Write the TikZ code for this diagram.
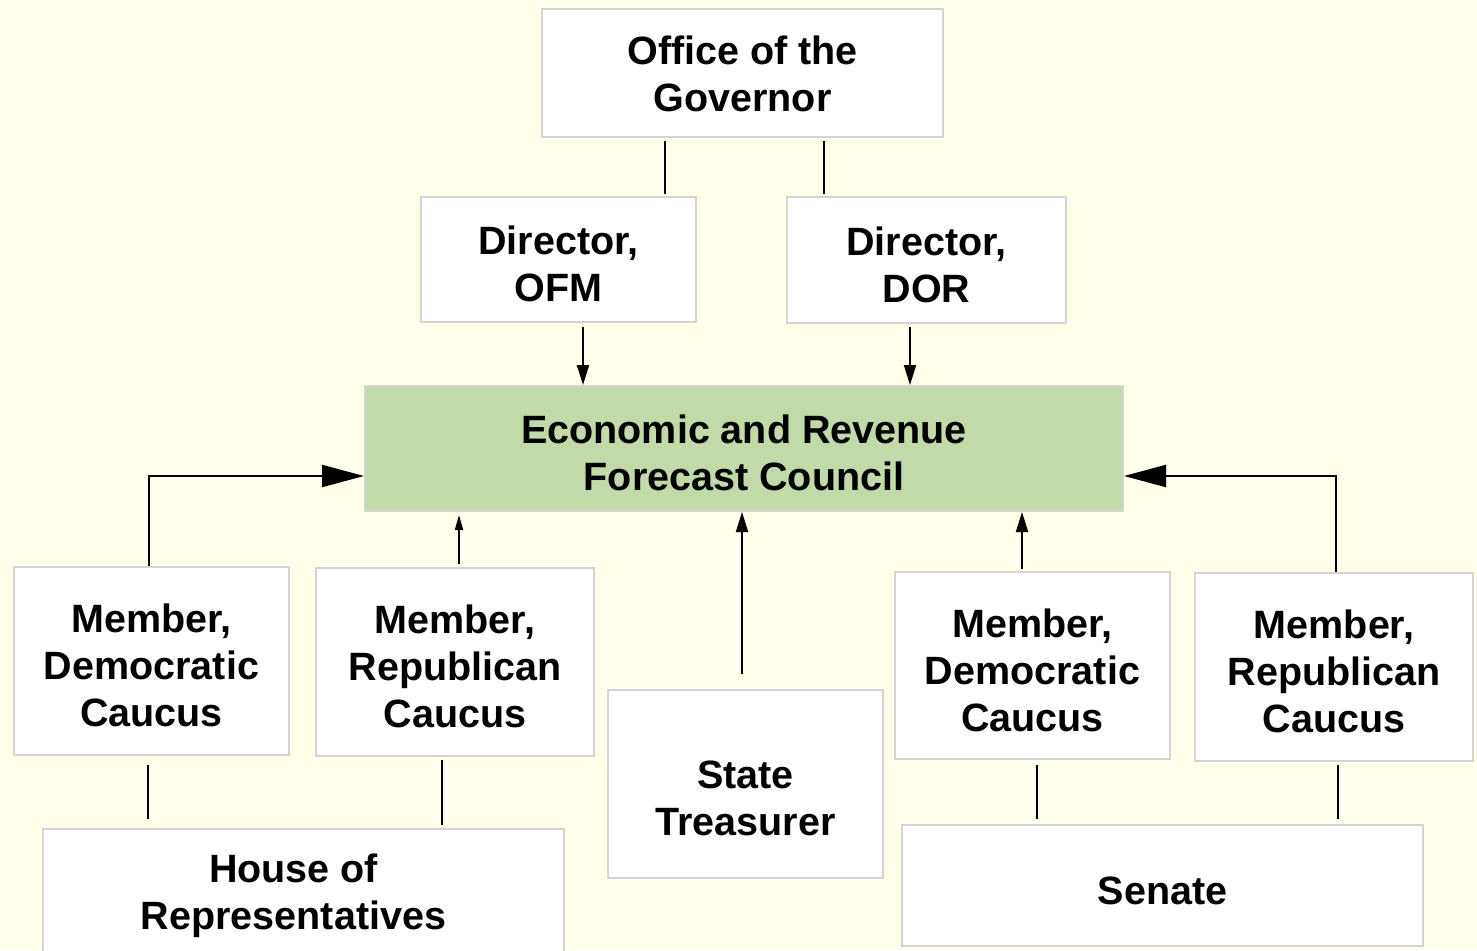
\documentclass[tikz,border=0pt]{standalone}
\usepackage{fontspec}
\setmainfont{Liberation Sans}
\usetikzlibrary{arrows.meta}
\definecolor{bgcol}{HTML}{FFFFEA}
\definecolor{greencol}{HTML}{C2D9A8}
\definecolor{edgecol}{HTML}{D4D4D4}
\newcommand{\firstst}[1][46pt]{\rule{0pt}{#1}}
\tikzset{
  boxfont/.style={font=\fontsize{39.5}{47}\selectfont\bfseries, align=center,
    execute at end node={\rule[-9pt]{0pt}{9pt}}},
  box/.style={draw=edgecol, line width=2pt, fill=white, inner sep=0pt, boxfont},
  conn/.style={draw=black, line width=2pt},
  bigtip/.style={-{Triangle[length=42pt,width=22pt]}},
  midtip/.style={-{Triangle[length=20pt,width=12pt]}},
  smalltip/.style={-{Triangle[length=15pt,width=8pt]}},
}
\begin{document}
\begin{tikzpicture}[x=1pt,y=-1pt]
\fill[bgcol] (0,0) rectangle (1477,950);
\useasboundingbox (0,0) rectangle (1477,950);
\clip (0,0) rectangle (1477,950);
% nodes
\node[box, minimum width=401pt, minimum height=128pt] (gov) at (742.5,73) {\firstst[38pt]Office of the\\Governor};
\node[box, minimum width=275pt, minimum height=125pt] (ofm) at (558.5,259.5) {\firstst Director,\\OFM};
\node[box, minimum width=279pt, minimum height=126pt] (dor) at (926.5,260) {\firstst Director,\\DOR};
\node[box, fill=greencol, minimum width=758pt, minimum height=125pt] (erfc) at (744,448.5) {\firstst Economic and Revenue\\Forecast Council};
\node[box, minimum width=275pt, minimum height=188pt] (hdem) at (151.5,661) {\firstst Member,\\Democratic\\Caucus};
\node[box, minimum width=278pt, minimum height=188pt] (hrep) at (455,662) {\firstst Member,\\Republican\\Caucus};
\node[draw=edgecol, line width=2pt, fill=white, inner sep=0pt, minimum width=275pt, minimum height=188pt,
  label={[boxfont, inner sep=0pt, yshift=-9pt]center:\firstst State\\Treasurer}] (tre) at (745.5,784) {};
\node[box, minimum width=275pt, minimum height=187pt] (sdem) at (1032.5,665.5) {\firstst Member,\\Democratic\\Caucus};
\node[box, minimum width=278pt, minimum height=188pt] (srep) at (1334,667) {\firstst Member,\\Republican\\Caucus};
\node[box, minimum width=521pt, minimum height=125pt] (house) at (303.5,891.5) {\firstst[38pt]House of\hspace*{20pt}\\Representatives\hspace*{20pt}};
\node[box, minimum width=521pt, minimum height=121pt] (senate) at (1162.5,885.5) {\firstst Senate};
% helper coordinates
\coordinate (x665) at (665,0);
\coordinate (x824) at (824,0);
\coordinate (x583) at (583,0);
\coordinate (x910) at (910,0);
\coordinate (x149) at (149,0);
\coordinate (x459) at (459,0);
\coordinate (x742) at (742,0);
\coordinate (x1022) at (1022,0);
\coordinate (x1336) at (1336,0);
\coordinate (x148) at (148,0);
\coordinate (x442) at (442,0);
\coordinate (x1037) at (1037,0);
\coordinate (x1338) at (1338,0);
\coordinate (y476) at (0,476);
% connectors
\draw[conn, shorten <=3pt, shorten >=2pt] (gov.south -| x665) -- (ofm.north -| x665);
\draw[conn, shorten <=3pt, shorten >=2pt] (gov.south -| x824) -- (dor.north -| x824);
\draw[conn, midtip, shorten <=4pt] (ofm.south -| x583) -- (erfc.north -| x583);
\draw[conn, midtip, shorten <=3pt] (dor.south -| x910) -- (erfc.north -| x910);
\draw[conn, bigtip] (hdem.north -| x149) |- (erfc.west |- y476);
\draw[conn, bigtip] (srep.north -| x1336) |- (erfc.east |- y476);
\draw[conn, smalltip, shorten <=3pt, shorten >=3pt] (hrep.north -| x459) -- (erfc.south -| x459);
\draw[conn, midtip, shorten <=15pt] (tre.north -| x742) -- (erfc.south -| x742);
\draw[conn, midtip, shorten <=2pt] (sdem.north -| x1022) -- (erfc.south -| x1022);
\draw[conn, shorten <=9pt, shorten >=9pt] (hdem.south -| x148) -- (house.north -| x148);
\draw[conn, shorten <=3pt, shorten >=3pt] (hrep.south -| x442) -- (house.north -| x442);
\draw[conn, shorten <=5pt, shorten >=5pt] (sdem.south -| x1037) -- (senate.north -| x1037);
\draw[conn, shorten <=3pt, shorten >=5pt] (srep.south -| x1338) -- (senate.north -| x1338);
\end{tikzpicture}
\end{document}
